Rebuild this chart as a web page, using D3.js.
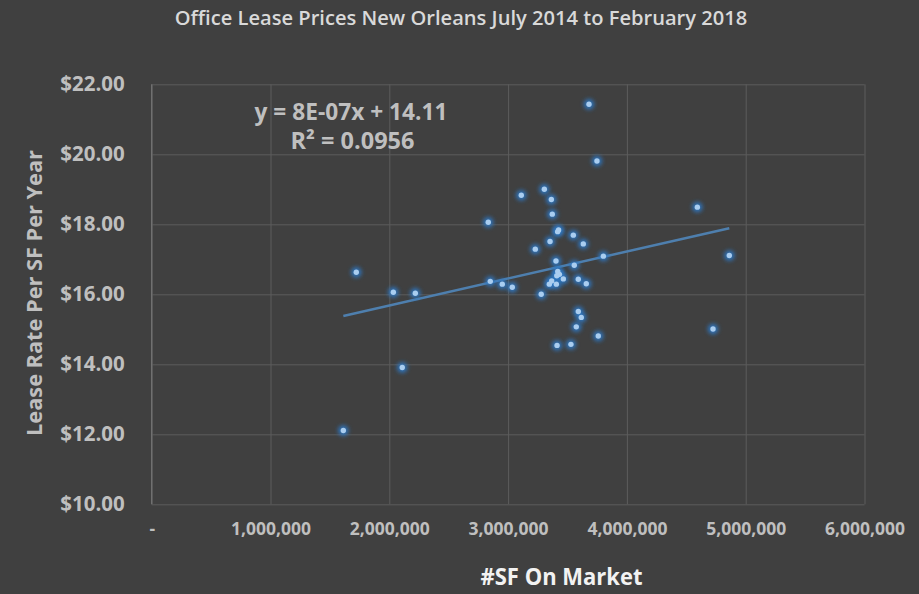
<!DOCTYPE html>
<html>
<head>
<meta charset="utf-8">
<title>Office Lease Prices New Orleans</title>
<script src="https://d3js.org/d3.v7.min.js"></script>
<style>
  html, body { margin: 0; padding: 0; background: #404040; }
  svg { display: block; font-family: "Open Sans", "Noto Sans", sans-serif; }
</style>
</head>
<body>
<div id="vis"></div>
<script>
// square feet on market vs lease rate ($/SF/yr)
const sfOnMarket = [
  1613000, 1722000, 2034000, 2109000, 2219000, 2833000, 2850000, 2951000,
  3035000, 3111000, 3229000, 3279000, 3305000, 3347000, 3353000, 3364000,
  3367000, 3372000, 3403000, 3406000, 3410000, 3412000, 3417000, 3418000,
  3425000, 3432000, 3465000, 3529000, 3549000, 3557000, 3574000, 3591000,
  3591000, 3616000, 3633000, 3658000, 3681000, 3748000, 3759000, 3802000,
  4593000, 4725000, 4862000
];
const leaseRate = [
  12.11, 16.63, 16.06, 13.91, 16.03, 18.06, 16.37, 16.29,
  16.20, 18.83, 17.29, 16.00, 19.00, 16.29, 17.51, 18.71,
  16.38, 18.29, 16.95, 16.29, 16.53, 14.54, 17.79, 16.65,
  17.84, 16.57, 16.44, 14.57, 17.69, 16.83, 15.07, 16.43,
  15.51, 15.34, 17.44, 16.30, 21.43, 19.81, 14.81, 17.09,
  18.49, 15.01, 17.11
];
const xTicks = [0, 1000000, 2000000, 3000000, 4000000, 5000000, 6000000];
const yTicks = [10, 12, 14, 16, 18, 20, 22];
const titleText = "Office Lease Prices New Orleans July 2014 to February 2018";
const eqLines = ["y = 8E-07x + 14.11", "R\u00B2 = 0.0956"];
const xTitle = "#SF On Market";
const yTitle = "Lease Rate Per SF Per Year";

const W = 919, H = 594;
const margin = {top: 84.3, right: 54.5, bottom: 89.7, left: 151.7};
const iw = W - margin.left - margin.right;
const ih = H - margin.top - margin.bottom;

const points = sfOnMarket.map((x, i) => ({x: x, y: leaseRate[i]}));

const svg = d3.select("#vis").append("svg")
  .attr("width", W).attr("height", H);

svg.append("rect").attr("width", W).attr("height", H).attr("fill", "#404040");

const defs = svg.append("defs");
defs.append("filter").attr("id", "glow")
  .attr("x", "-100%").attr("y", "-100%").attr("width", "300%").attr("height", "300%")
  .append("feGaussianBlur").attr("stdDeviation", 2);

const x = d3.scaleLinear().domain([0, 6000000]).range([0, iw]);
const y = d3.scaleLinear().domain([10, 22]).range([ih, 0]);

const g = svg.append("g").attr("transform", `translate(${margin.left},${margin.top})`);

// gridlines
g.append("g")
  .call(d3.axisLeft(y).tickValues(yTicks).tickSize(-iw).tickFormat(""))
  .call(a => a.select(".domain").remove())
  .call(a => a.selectAll("line").attr("stroke", "#5c5c5c"));
g.append("g")
  .attr("transform", `translate(0,${ih})`)
  .call(d3.axisBottom(x).tickValues(xTicks).tickSize(-ih).tickFormat(""))
  .call(a => a.select(".domain").remove())
  .call(a => a.selectAll("line").attr("stroke", "#5c5c5c"));
// vertical axis line
g.append("line").attr("x1", 0).attr("x2", 0).attr("y1", 0).attr("y2", ih)
  .attr("stroke", "#7a7a7a");

// tick labels
g.append("g")
  .call(d3.axisLeft(y).tickValues(yTicks).tickSize(0).tickPadding(27)
    .tickFormat(d3.format("$.2f")))
  .call(a => a.select(".domain").remove())
  .call(a => a.selectAll("text")
    .attr("fill", "#bfbfbf").attr("font-size", 20.5).attr("font-weight", "bold")
    .attr("font-family", "'Open Sans', sans-serif"));

g.append("g")
  .attr("transform", `translate(0,${ih})`)
  .call(d3.axisBottom(x).tickValues(xTicks).tickSize(0).tickPadding(18)
    .tickFormat(d => d === 0 ? "-" : d3.format(",")(d)))
  .call(a => a.select(".domain").remove())
  .call(a => a.selectAll("text")
    .attr("fill", "#bfbfbf").attr("font-size", 17.5).attr("font-weight", "bold")
    .attr("font-family", "'Open Sans', sans-serif"));

// linear trendline from least squares
const mx = d3.mean(points, d => d.x), my = d3.mean(points, d => d.y);
const slope = d3.sum(points, d => (d.x - mx) * (d.y - my)) / d3.sum(points, d => (d.x - mx) ** 2);
const icpt = my - slope * mx;
const xExt = d3.extent(points, d => d.x);
g.append("path")
  .datum(xExt.map(v => ({x: v, y: icpt + slope * v})))
  .attr("d", d3.line().x(d => x(d.x)).y(d => y(d.y)))
  .attr("stroke", "#4e7fae").attr("stroke-width", 2.5).attr("fill", "none");

// markers: blurred halo + light core
g.append("g").selectAll("circle")
  .data(points).join("circle")
  .attr("cx", d => x(d.x)).attr("cy", d => y(d.y))
  .attr("r", 5.2).attr("fill", "#2e78c4").attr("opacity", 0.95)
  .attr("filter", "url(#glow)");
g.append("g").selectAll("circle")
  .data(points).join("circle")
  .attr("cx", d => x(d.x)).attr("cy", d => y(d.y))
  .attr("r", 2.7).attr("fill", "#a9cdf0");

// squeeze a text horizontally so it spans the given width (Calibri is narrow)
function squeeze(sel, cx, cy, target, rot) {
  const w = sel.node().getComputedTextLength();
  sel.attr("x", 0).attr("y", 0)
    .attr("transform", `translate(${cx},${cy})${rot ? " rotate(" + rot + ")" : ""} scale(${target / w},1)`);
}

svg.append("text")
  .attr("text-anchor", "middle")
  .attr("fill", "#d9d9d9").attr("font-size", 20.5).attr("font-weight", 600)
  .text(titleText).call(s => squeeze(s, 461, 25, 573));

const eq = svg.append("g").attr("fill", "#bfbfbf").attr("font-weight", "bold");
eq.append("text").attr("text-anchor", "middle")
  .attr("font-size", 23).text(eqLines[0]).call(s => squeeze(s, 351, 120, 193));
eq.append("text").attr("text-anchor", "middle")
  .attr("font-size", 23).text(eqLines[1]).call(s => squeeze(s, 352.5, 149.3, 124));

svg.append("text")
  .attr("text-anchor", "middle")
  .attr("fill", "#f2f2f2").attr("font-size", 23.5).attr("font-weight", "bold")
  .text(xTitle).call(s => squeeze(s, 561.5, 585, 162));

svg.append("text")
  .attr("text-anchor", "middle")
  .attr("fill", "#bfbfbf").attr("font-size", 21).attr("font-weight", "bold")
  .text(yTitle).call(s => squeeze(s, 41.5, 293, 286, -90));
</script>
</body>
</html>
